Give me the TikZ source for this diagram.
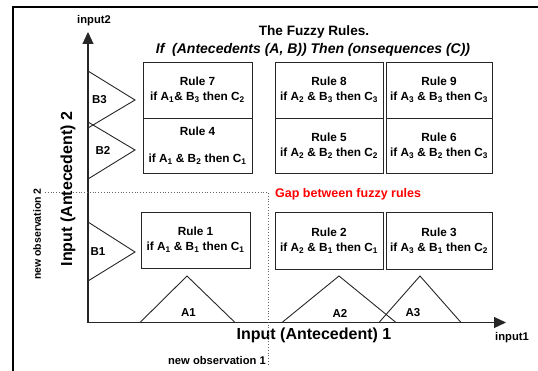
\documentclass[tikz,border=0pt]{standalone}
\usepackage{fontspec}
\setmainfont{Liberation Sans}
\usetikzlibrary{arrows.meta}

\newcommand{\fs}[1]{\fontsize{#1}{#1}\selectfont}
\newcommand{\rl}[4]{#1\textsubscript{#2}#3\textsubscript{#4}}

\tikzset{
  frame/.style={line width=2.4pt, black},
  axis/.style={line width=1.2pt, black!85, -{Triangle[length=12pt,width=11pt]}},
  memb/.style={line width=0.9pt, black!85},
  rulebox/.style={draw=black!85, line width=0.9pt, inner sep=0pt, align=center,
    font=\bfseries\fontsize{11.8}{15}\selectfont},
  obsline/.style={dotted, line width=0.8pt, black!60},
  lbl/.style={font=\bfseries\fs{11.5}, inner sep=0pt},
  small/.style={font=\bfseries\fs{10.5}, inner sep=0pt},
}

\begin{document}
\begin{tikzpicture}[x=1pt,y=-1pt]
\useasboundingbox (0,0) rectangle (538,371);

% outer frame: top and left edges only
\draw[frame] (13,371) -- (13,7) -- (538,7);

% axes
\coordinate (O) at (88,322.5);
\coordinate (ytip) at (88,32);
\coordinate (xtip) at (506,322.5);
\draw[axis] (O) -- (ytip);
\draw[axis] (O) -- (xtip);
\node[small, font=\bfseries\fs{11.2}] (in2) at (94,21) {input2};
\node[small, font=\bfseries\fs{11.2}] (in1) at (512,338) {input1};

% titles
\node[font=\bfseries\fs{13.6}, inner sep=0pt] (t1) at (314,32) {The Fuzzy Rules.};
\node[font=\bfseries\itshape\fs{14}, inner sep=0pt] (t2) at (313,50) {If\ \ (Antecedents (A, B)) Then (onsequences (C))};

% axis titles
\node[font=\bfseries\fs{16}, inner sep=0pt, rotate=90] (ylab) at (68,189) {Input (Antecedent) 2};
\node[font=\bfseries\fs{16}, inner sep=0pt] (xlab) at (314,335) {Input (Antecedent) 1};

% observations
\coordinate (obs2a) at (45,192);
\coordinate (obsX) at (268,192);
\coordinate (obs1b) at (268,366);
\draw[obsline] (obs2a) -- (obsX) -- (obs1b);
\node[small, rotate=90] (nobs2) at (37,234) {new observation 2};
\node[font=\bfseries\fs{11.2}, inner sep=0pt] (nobs1) at (217,360) {new observation 1};
\node[font=\bfseries\fs{12.5}, inner sep=0pt, text=red, anchor=west] (gap) at (275,194) {Gap between fuzzy rules};

% membership functions on input 2
\draw[memb] (88,71) -- (135,100) -- (88,128);
\draw[memb] (88,122) -- (135,150) -- (88,179);
\draw[memb] (88,222) -- (135,252) -- (88,281);
\node[lbl] (B3) at (99.5,100) {B3};
\node[lbl] (B2) at (103,150) {B2};
\node[lbl] (B1) at (98,252) {B1};

% membership functions on input 1
\draw[memb] (140,322.5) -- (187,276) -- (235,322.5);
\draw[memb] (282,322.5) -- (339,276) -- (396,322.5);
\draw[memb] (379,322.5) -- (420,276) -- (461,322.5);
\node[lbl] (A1) at (188.5,313) {A1};
\node[lbl] (A2) at (340,313) {A2};
\node[lbl] (A3) at (413,313) {A3};

% rule base
\node[rulebox, minimum width=109pt, minimum height=56pt] (r7) at (197.5,90)
  {Rule 7\\\rl{if A}{1}{\& B}{3} then C\textsubscript{2}};
\node[rulebox, minimum width=109pt, minimum height=55pt] (r4) at (197.5,145.5)
  {Rule 4\\[12pt]\rl{if A}{1}{ \& B}{2} then C\textsubscript{1}};
\node[rulebox, minimum width=108pt, minimum height=56pt] (r8) at (329,90)
  {Rule 8\\\rl{if A}{2}{ \& B}{3} then C\textsubscript{3}};
\node[rulebox, minimum width=106pt, minimum height=56pt] (r9) at (439,90)
  {Rule 9\\\rl{if A}{3}{ \& B}{3} then C\textsubscript{3}};
\node[rulebox, minimum width=108pt, minimum height=55pt] (r5) at (329,145.5)
  {Rule 5\\\rl{if A}{2}{ \& B}{2} then C\textsubscript{2}};
\node[rulebox, minimum width=106pt, minimum height=55pt] (r6) at (439,145.5)
  {Rule 6\\\rl{if A}{3}{ \& B}{2} then C\textsubscript{3}};
\node[rulebox, minimum width=109pt, minimum height=56pt] (r1) at (195.5,240)
  {Rule 1\\\rl{if A}{1}{ \& B}{1} then C\textsubscript{1}};
\node[rulebox, minimum width=108pt, minimum height=57pt] (r2) at (329,240.5)
  {Rule 2\\\rl{if A}{2}{ \& B}{1} then C\textsubscript{1}};
\node[rulebox, minimum width=106pt, minimum height=57pt] (r3) at (439,240.5)
  {Rule 3\\\rl{if A}{3}{ \& B}{1} then C\textsubscript{2}};
\end{tikzpicture}
\end{document}
